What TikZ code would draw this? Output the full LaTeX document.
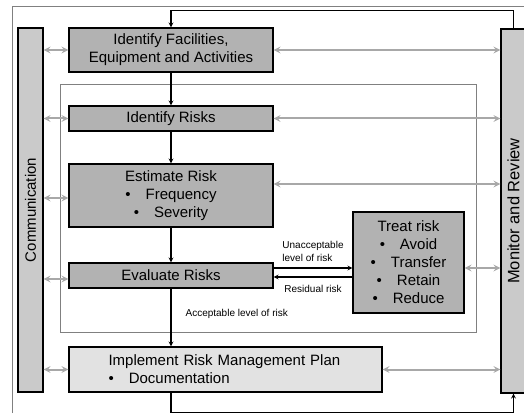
\documentclass[tikz,border=0pt]{standalone}
\usepackage{fontspec}
\setmainfont{Liberation Sans}
\usetikzlibrary{shapes.geometric, arrows}
\definecolor{boxgray}{RGB}{178,178,178}
\definecolor{bargray}{RGB}{202,202,202}
\definecolor{plangray}{RGB}{226,226,226}
\definecolor{linkgray}{RGB}{168,168,168}
\definecolor{framegray}{RGB}{128,128,128}
\tikzstyle{process} = [rectangle, draw, line width=1.1pt, fill=boxgray, text width=204pt, inner sep=0pt, text badly centered, font=\fontsize{15}{18}\selectfont]
\tikzstyle{bar} = [rectangle, draw, line width=1.1pt, fill=bargray, minimum width=25pt, minimum height=364pt, inner sep=0pt, font=\fontsize{15}{18}\selectfont]
\tikzstyle{note} = [inner sep=0pt, align=left, font=\fontsize{10}{13}\selectfont]
\tikzstyle{arrow} = [line width=1.2pt,->,>=stealth]
\tikzstyle{link} = [line width=2pt, draw=linkgray, <->, >=stealth]
\tikzstyle{frame} = [line width=0.8pt, draw=framegray]

\begin{document}
\begin{tikzpicture}[x=1pt, y=1pt, node distance=75pt]
\useasboundingbox (0,0) rectangle (524,413);

\draw [frame] (12,0) -- (12,407) -- (524,407);
\draw [frame] (60,81) rectangle (476,329);

\node (fac)		[process, minimum height=44pt] at (171,363)				{Identify Facilities,\\Equipment and Activities};
\node (idr)		[process, minimum height=25pt, below of=fac, yshift=6.5pt]	{Identify Risks};
\node (est)		[process, minimum height=63pt, below of=idr, yshift=-2pt]	{Estimate Risk\\\textbullet\quad Frequency\\\textbullet\quad Severity};
\node (eva)		[process, minimum height=25pt, below of=est, yshift=-5pt]	{Evaluate Risks};
\node (imp)		[process, fill=plangray, text width=234pt, align=left, minimum width=313pt, minimum height=45pt, below of=eva, xshift=54.5pt, yshift=-19pt]	{Implement Risk Management Plan\\\textbullet\quad Documentation};
\node (treat)	[process, text width=111pt, minimum height=101pt, right of=eva, xshift=162.5pt, yshift=13pt]	{Treat risk\\\textbullet\quad Avoid\\\textbullet\quad Transfer\\\textbullet\quad Retain\\\textbullet\quad Reduce};
\node (comm)	[bar] at (30.5,203)		{\rotatebox{90}{Communication}};
\node (mon)		[bar, font=\fontsize{16.5}{18}\selectfont] at (513.5,202)	{\rotatebox{90}{Monitor and Review}};

\draw [arrow] (fac) -- (idr);
\draw [arrow] (idr) -- (est);
\draw [arrow] (est) -- (eva);
\draw [arrow] (eva.south) -- (eva.south |- imp.north) node [note, pos=0.44, right=14pt] {Acceptable level of risk};
\draw [arrow] ([yshift=7.5pt]eva.east) -- ([yshift=7.5pt]eva.east -| treat.west) node [note, midway, above=6pt] {Unacceptable\\level of risk};
\draw [arrow] ([yshift=-1.5pt]eva.east -| treat.west) -- ([yshift=-1.5pt]eva.east) node [note, midway, below=8pt] {Residual risk};
\draw [arrow] (mon.north) -- ++(0,18) -| (fac.north);
\draw [arrow] (fac.south |- imp.south) -- ++(0,-20) -| (mon.south);

\draw [link] (comm.east |- fac.west) -- (fac.west);
\draw [link] (comm.east |- idr.west) -- (idr.west);
\draw [link] ([yshift=-2.5pt]comm.east |- est.west) -- ([yshift=-2.5pt]est.west);
\draw [link] ([yshift=-3.5pt]comm.east |- eva.west) -- ([yshift=-3.5pt]eva.west);
\draw [link] (comm.east |- imp.west) -- (imp.west);
\draw [link] (fac.east) -- (fac.east -| mon.west);
\draw [link] (idr.east) -- (idr.east -| mon.west);
\draw [link] ([yshift=11.5pt]est.east) -- ([yshift=11.5pt]est.east -| mon.west);
\draw [link] ([yshift=-5.5pt]treat.east) -- ([yshift=-5.5pt]treat.east -| mon.west);
\draw [link] (imp.east) -- (imp.east -| mon.west);

\end{tikzpicture}
\end{document}
